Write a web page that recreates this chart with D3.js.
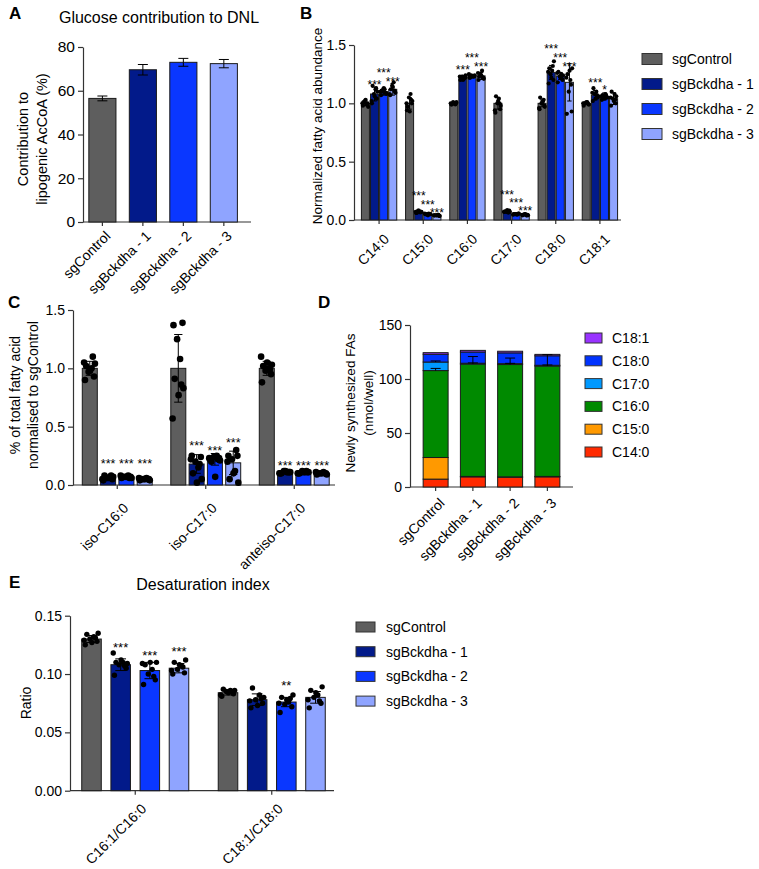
<!DOCTYPE html>
<html><head><meta charset="utf-8">
<script src="https://cdn.jsdelivr.net/npm/d3@7"></script>
<style>
body{margin:0;background:#fff}
text{font-family:"Liberation Sans",Arial,sans-serif;fill:#000}
</style>
</head><body>
<svg id="fig" width="759" height="869"></svg>
<script>
// ---------------- DATA ----------------
const groupNames = ["sgControl", "sgBckdha - 1", "sgBckdha - 2", "sgBckdha - 3"];
const groupColors = ["#5e5e5e", "#021a8a", "#0a37ff", "#8fa4ff"];

// Panel A
const aValues = [56.5, 69.6, 73.0, 72.4];
const aErrors = [1.1, 2.4, 1.8, 1.9];
const aTicks = [0, 20, 40, 60, 80];

// Panel B
const bCategories = ["C14:0", "C15:0", "C16:0", "C17:0", "C18:0", "C18:1"];
const bMeans = [
  [1.0, 1.08, 1.10, 1.12],
  [1.0, 0.07, 0.05, 0.04],
  [1.0, 1.22, 1.23, 1.235],
  [1.0, 0.073, 0.05, 0.045],
  [1.0, 1.265, 1.235, 1.18],
  [1.0, 1.07, 1.06, 1.04]
];
const bErrors = [
  [0.02, 0.06, 0.03, 0.05],
  [0.05, 0.01, 0.01, 0.005],
  [0.01, 0.02, 0.01, 0.03],
  [0.05, 0.01, 0.005, 0.005],
  [0.03, 0.06, 0.03, 0.16],
  [0.01, 0.04, 0.03, 0.05]
];
const bPoints = [
  [[0.98,1.00,1.02,0.99,1.01,0.97,1.03,1.00,0.99],[1.00,1.04,1.08,1.12,1.15,1.10,1.06,1.02,1.13],[1.07,1.09,1.10,1.12,1.11,1.08,1.13,1.10,1.09],[1.07,1.10,1.15,1.18,1.12,1.09,1.14,1.08,1.11]],
  [[0.94,1.00,1.05,1.08,0.97,1.02,0.93,1.00,1.03],[0.06,0.07,0.08,0.07,0.06,0.07,0.08,0.07,0.065],[0.05,0.05,0.045,0.055,0.05,0.05,0.04,0.055,0.05],[0.04,0.035,0.04,0.045,0.04,0.035,0.04,0.04,0.045]],
  [[0.99,1.00,1.01,1.00,0.99,1.01,1.00,1.00,0.99],[1.20,1.22,1.23,1.21,1.22,1.24,1.20,1.23,1.22],[1.22,1.23,1.24,1.23,1.22,1.24,1.23,1.25,1.23],[1.20,1.22,1.25,1.28,1.23,1.21,1.24,1.26,1.22]],
  [[0.92,0.95,1.00,1.04,1.06,0.98,1.02,0.94,1.00],[0.07,0.08,0.07,0.065,0.075,0.07,0.085,0.07,0.065],[0.05,0.055,0.05,0.045,0.05,0.055,0.05,0.045,0.05],[0.04,0.045,0.05,0.04,0.045,0.04,0.05,0.045,0.04]],
  [[0.95,0.98,1.00,1.02,1.05,0.97,1.01,0.96,1.03],[1.17,1.20,1.25,1.28,1.30,1.36,1.22,1.27,1.32],[1.18,1.20,1.23,1.25,1.27,1.24,1.22,1.26,1.21],[0.91,0.93,1.10,1.20,1.25,1.30,1.28,1.22,1.16]],
  [[0.98,0.99,1.00,1.01,1.00,0.99,1.01,1.00,1.00],[1.02,1.05,1.08,1.10,1.13,1.06,1.04,1.09,1.07],[1.03,1.05,1.06,1.08,1.07,1.05,1.04,1.06,1.07],[0.98,1.00,1.04,1.08,1.10,1.06,1.02,1.05,1.03]]
];
const bStarLabels = [
  ["", "***", "***", "***"], ["", "***", "***", "***"], ["", "***", "***", "***"],
  ["", "***", "***", "***"], ["", "***", "***", "***"], ["", "***", "*", ""]
];
const bStarY = [
  [0, 1.185, 1.286, 1.209], [0, 0.23, 0.155, 0.085], [0, 1.31, 1.41, 1.34],
  [0, 0.24, 0.17, 0.10], [0, 1.49, 1.41, 1.34], [0, 1.20, 1.137, 0]
];
const bTicks = [0, 0.5, 1.0, 1.5];

// Panel C
const cCategories = ["iso-C16:0", "iso-C17:0", "anteiso-C17:0"];
const cMeans = [
  [1.0, 0.065, 0.07, 0.05],
  [1.0, 0.18, 0.22, 0.19],
  [1.0, 0.11, 0.11, 0.10]
];
const cErrors = [
  [0.06, 0.015, 0.01, 0.01],
  [0.29, 0.08, 0.05, 0.10],
  [0.06, 0.01, 0.01, 0.01]
];
const cPoints = [
  [[0.90,0.93,0.97,1.00,1.02,1.04,0.98,1.05,1.10],[0.04,0.05,0.06,0.07,0.08,0.07,0.06,0.05,0.08],[0.06,0.07,0.07,0.08,0.07,0.06,0.07,0.08,0.06],[0.04,0.05,0.05,0.06,0.05,0.04,0.05,0.06,0.05]],
  [[1.37,1.39,1.25,1.08,0.91,0.83,0.77,0.57,0.86],[0.25,0.24,0.20,0.15,0.10,0.05,0.02,0.22,0.18],[0.22,0.23,0.24,0.25,0.20,0.21,0.07,0.23,0.22],[0.25,0.25,0.22,0.12,0.05,0.02,0.10,0.20,0.30]],
  [[0.88,0.95,0.98,1.00,1.02,1.03,1.05,1.10,0.99],[0.10,0.11,0.12,0.11,0.10,0.11,0.12,0.10,0.11],[0.10,0.11,0.12,0.11,0.10,0.11,0.11,0.10,0.12],[0.09,0.10,0.10,0.11,0.10,0.09,0.10,0.11,0.10]]
];
const cStarLabels = [["", "***", "***", "***"], ["", "***", "***", "***"], ["", "***", "***", "***"]];
const cStarY = [[0, 0.208, 0.208, 0.208], [0, 0.357, 0.314, 0.386], [0, 0.19, 0.19, 0.19]];
const cTicks = [0, 0.5, 1.0, 1.5];

// Panel D (stacked, bottom to top)
const dKeys = ["C14:0", "C15:0", "C16:0", "C17:0", "C18:0", "C18:1"];
const dColors = ["#ff2a00", "#ff9900", "#008a00", "#0099ff", "#0033ff", "#9933ff"];
const dC14 = [7.3, 9.4, 9.0, 9.4];
const dC15 = [20.0, 0.4, 0.4, 0.4];
const dC16 = [80.5, 104.0, 104.0, 102.2];
const dC17 = [7.9, 0.8, 0.8, 0.7];
const dC18 = [7.2, 10.4, 10.0, 8.8];
const dC181 = [1.5, 1.5, 1.5, 1.3];
const dErrC16 = [2.0, 7.0, 6.0, 10.5];
const dErrC17 = [1.0, 0.3, 0.3, 0.3];
const dTicks = [0, 50, 100, 150];

// Panel E
const eCategories = ["C16:1/C16:0", "C18:1/C18:0"];
const eMeans = [[0.130, 0.108, 0.103, 0.105], [0.084, 0.078, 0.076, 0.080]];
const eErrors = [[0.003, 0.005, 0.007, 0.004], [0.002, 0.005, 0.004, 0.005]];
const ePoints = [
  [[0.125,0.128,0.130,0.132,0.134,0.135,0.127,0.129,0.131],[0.099,0.105,0.108,0.110,0.110,0.109,0.112,0.118,0.107],[0.091,0.095,0.100,0.104,0.108,0.110,0.110,0.109,0.098],[0.100,0.101,0.104,0.107,0.110,0.112,0.108,0.103,0.106]],
  [[0.081,0.083,0.085,0.086,0.087,0.086,0.084,0.082,0.085],[0.071,0.075,0.078,0.082,0.088,0.080,0.073,0.077,0.079],[0.067,0.072,0.074,0.076,0.080,0.082,0.078,0.075,0.079],[0.071,0.075,0.080,0.082,0.086,0.089,0.084,0.078,0.077]]
];
const eStarLabels = [["", "***", "***", "***"], ["", "", "**", ""]];
const eStarY = [[0, 0.1249, 0.1186, 0.1215], [0, 0, 0.0929, 0]];
const eTicks = [0, 0.05, 0.10, 0.15];

// fixed horizontal spread pattern for scatter dots (fraction of bar width)
const spread = [-0.32, 0.28, -0.08, 0.12, -0.24, 0.34, 0.02, -0.38, 0.2];

// ---------------- DRAW ----------------
const svg = d3.select("#fig");
const AX = "#333";

function styleAxis(sel, fs) {
  sel.selectAll("path,line").attr("stroke", AX).attr("stroke-width", 1.2);
  sel.selectAll("text").attr("font-size", fs).attr("fill", "#000");
}
function rotLabels(g, items, y0, fs, ox, oy) {
  items.forEach(([label, x]) => {
    g.append("text").attr("transform", `translate(${x + ox},${y0 + oy}) rotate(-45)`)
      .attr("text-anchor", "end").attr("dy", "0.7em").attr("font-size", fs).text(label);
  });
}
function yLabel(lines, x, y, fs) {
  lines.forEach((l, i) => {
    svg.append("text").attr("transform", `translate(${x + i * (fs + 4)},${y}) rotate(-90)`)
      .attr("text-anchor", "middle").attr("font-size", fs).text(l);
  });
}
function panelLetter(t, x, y) {
  svg.append("text").attr("x", x).attr("y", y).attr("font-size", 17).attr("font-weight", "bold").text(t);
}
function errBar(g, x, yv1, yv2, w) {
  g.append("line").attr("x1", x).attr("x2", x).attr("y1", yv1).attr("y2", yv2).attr("stroke", "#000").attr("stroke-width", 1);
  g.append("line").attr("x1", x - w / 2).attr("x2", x + w / 2).attr("y1", yv2).attr("y2", yv2).attr("stroke", "#000").attr("stroke-width", 1);
}

// Grouped chart with dots
function grouped(o) {
  const g = svg.append("g");
  const y = d3.scaleLinear().domain([o.ticks[0], o.ticks[o.ticks.length - 1]]).range([o.yBottom, o.yTop]);
  const x = d3.scaleBand().domain(o.categories).range(o.xRange).paddingInner(o.pIn).paddingOuter(o.pOut);
  const xi = d3.scaleBand().domain(d3.range(4)).range([0, x.bandwidth()]).paddingInner(o.pIn2);
  const ya = g.append("g").attr("transform", `translate(${o.x0},0)`)
    .call(d3.axisLeft(y).tickValues(o.ticks).tickFormat(d3.format(o.fmt)).tickSize(5).tickSizeOuter(0).tickPadding(3));
  styleAxis(ya, o.tickFs);
  g.append("line").attr("x1", o.x0).attr("x2", o.x1).attr("y1", o.yBottom).attr("y2", o.yBottom).attr("stroke", AX).attr("stroke-width", 1.2);
  o.categories.forEach((c, ci) => {
    const gx = x(c);
    g.append("line").attr("x1", gx + x.bandwidth() / 2).attr("x2", gx + x.bandwidth() / 2)
      .attr("y1", o.yBottom).attr("y2", o.yBottom + 4).attr("stroke", AX).attr("stroke-width", 1.2);
    for (let s = 0; s < 4; s++) {
      const bx = gx + xi(s), bw = xi.bandwidth(), m = o.means[ci][s];
      g.append("rect").attr("x", bx).attr("y", y(m)).attr("width", bw).attr("height", o.yBottom - y(m))
        .attr("fill", groupColors[s]).attr("stroke", "#1a1a1a").attr("stroke-width", 1);
      const e = o.errors[ci][s], cx = bx + bw / 2;
      errBar(g, cx, y(m), y(m + e), bw * 0.55);
      errBar(g, cx, y(m), y(Math.max(0, m - e)), bw * 0.55);
      o.points[ci][s].forEach((v, k) => {
        g.append("circle").attr("cx", cx + spread[k] * bw * o.spreadK).attr("cy", y(v)).attr("r", o.r).attr("fill", "#000");
      });
      const lab = o.starLabels[ci][s];
      if (lab) g.append("text").attr("x", cx).attr("y", y(o.starY[ci][s])).attr("dy", "0.57em")
        .attr("text-anchor", "middle").attr("font-size", o.starFs).text(lab);
    }
  });
  rotLabels(g, o.categories.map(c => [c, x(c) + x.bandwidth() / 2]), o.yBottom, o.labFs, o.lox, o.loy);
}

function legend(x, y0, step, w, h, labels, colors, fs, tx) {
  labels.forEach((l, i) => {
    svg.append("rect").attr("x", x).attr("y", y0 + i * step - h / 2).attr("width", w).attr("height", h)
      .attr("fill", colors[i]).attr("stroke", "#333").attr("stroke-width", 1);
    svg.append("text").attr("x", tx).attr("y", y0 + i * step).attr("dy", "0.36em").attr("font-size", fs).text(l);
  });
}

// ---- Panel A ----
panelLetter("A", 9, 19);
svg.append("text").attr("x", 159).attr("y", 23).attr("text-anchor", "middle").attr("font-size", 16).text("Glucose contribution to DNL");
{
  const g = svg.append("g");
  const y = d3.scaleLinear().domain([0, 80]).range([222, 47]);
  const x = d3.scaleBand().domain(groupNames).range([83, 251]).paddingInner(0.33).paddingOuter(0.24).align(0.3);
  const ya = g.append("g").attr("transform", "translate(83,0)")
    .call(d3.axisLeft(y).tickValues(aTicks).tickSize(5).tickSizeOuter(0).tickPadding(3));
  styleAxis(ya, 15.5);
  g.append("line").attr("x1", 83).attr("x2", 251).attr("y1", 222).attr("y2", 222).attr("stroke", AX).attr("stroke-width", 1.2);
  groupNames.forEach((n, i) => {
    const bx = x(n), bw = x.bandwidth();
    g.append("rect").attr("x", bx).attr("y", y(aValues[i])).attr("width", bw).attr("height", 222 - y(aValues[i]))
      .attr("fill", groupColors[i]).attr("stroke", "#1a1a1a").attr("stroke-width", 1);
    errBar(g, bx + bw / 2, y(aValues[i]), y(aValues[i] + aErrors[i]), 10);
    errBar(g, bx + bw / 2, y(aValues[i]), y(aValues[i] - aErrors[i]), 10);
    g.append("line").attr("x1", bx + bw / 2).attr("x2", bx + bw / 2).attr("y1", 222).attr("y2", 226).attr("stroke", AX).attr("stroke-width", 1.2);
  });
  rotLabels(g, groupNames.map(n => [n, x(n) + x.bandwidth() / 2]), 222, 14, 2, 8);
}
yLabel(["Contribution to", "lipogenic AcCoA (%)"], 28, 139, 14.5);

// ---- Panel B ----
panelLetter("B", 300, 19);
grouped({
  categories: bCategories, means: bMeans, errors: bErrors, points: bPoints,
  starLabels: bStarLabels, starY: bStarY, ticks: bTicks, fmt: ".1f",
  x0: 354, x1: 621, yTop: 45, yBottom: 220, xRange: [357, 622], pIn: 0.2, pOut: 0.1, pIn2: 0.12,
  r: 2.1, spreadK: 1.0, tickFs: 14, labFs: 14, starFs: 12, lox: 4, loy: 13
});
yLabel(["Normalized fatty acid abundance"], 322, 126, 13.5);
legend(642, 59, 25, 20, 11, groupNames, groupColors, 14, 672);

// ---- Panel C ----
panelLetter("C", 8, 308);
grouped({
  categories: cCategories, means: cMeans, errors: cErrors, points: cPoints,
  starLabels: cStarLabels, starY: cStarY, ticks: cTicks, fmt: ".1f",
  x0: 73, x1: 335, yTop: 310, yBottom: 485, xRange: [73, 338.5], pIn: 0.21, pOut: 0.105, pIn2: 0.18,
  r: 3.3, spreadK: 1.0, tickFs: 14, labFs: 14, starFs: 12.5, lox: 5, loy: 17
});
yLabel(["% of total fatty acid", "normalised to sgControl"], 20, 395, 14);

// ---- Panel D ----
panelLetter("D", 318, 308);
{
  const g = svg.append("g");
  const rows = groupNames.map((n, i) => ({
    name: n, "C14:0": dC14[i], "C15:0": dC15[i], "C16:0": dC16[i], "C17:0": dC17[i], "C18:0": dC18[i], "C18:1": dC181[i]
  }));
  const stack = d3.stack().keys(dKeys)(rows);
  const y = d3.scaleLinear().domain([0, 150]).range([487, 325]);
  const x = d3.scaleBand().domain(groupNames).range([417, 566]).paddingInner(0.33).paddingOuter(0.165);
  const ya = g.append("g").attr("transform", "translate(410,0)")
    .call(d3.axisLeft(y).tickValues(dTicks).tickSize(5).tickSizeOuter(0).tickPadding(3));
  styleAxis(ya, 14);
  g.append("line").attr("x1", 410).attr("x2", 573).attr("y1", 487).attr("y2", 487).attr("stroke", AX).attr("stroke-width", 1.2);
  stack.forEach((layer, li) => {
    layer.forEach((d, i) => {
      g.append("rect").attr("x", x(d.data.name)).attr("y", y(d[1])).attr("width", x.bandwidth())
        .attr("height", Math.max(0, y(d[0]) - y(d[1])))
        .attr("fill", dColors[li]).attr("stroke", "#1a1a1a").attr("stroke-width", 1);
    });
  });
  groupNames.forEach((n, i) => {
    const cx = x(n) + x.bandwidth() / 2;
    const c16top = stack[2][i][1], c17top = stack[3][i][1];
    errBar(g, cx, y(c16top), y(c16top + dErrC16[i]), 10);
    errBar(g, cx, y(c17top), y(c17top + dErrC17[i]), 10);
    g.append("line").attr("x1", cx).attr("x2", cx).attr("y1", 487).attr("y2", 491).attr("stroke", AX).attr("stroke-width", 1.2);
  });
  rotLabels(g, groupNames.map(n => [n, x(n) + x.bandwidth() / 2]), 487, 14, 3, 10);
}
yLabel(["Newly synthesized FAs", "(nmol/well)"], 355, 403, 13.5);
legend(585, 338, 22.8, 17, 10, dKeys.slice().reverse(), dColors.slice().reverse(), 14, 612);

// ---- Panel E ----
panelLetter("E", 9, 588);
svg.append("text").attr("x", 203).attr("y", 590).attr("text-anchor", "middle").attr("font-size", 16).text("Desaturation index");
grouped({
  categories: eCategories, means: eMeans, errors: eErrors, points: ePoints,
  starLabels: eStarLabels, starY: eStarY, ticks: eTicks, fmt: ".2f",
  x0: 70, x1: 334, yTop: 615.7, yBottom: 790.7, xRange: [67, 340], pIn: 0.216, pOut: 0.108, pIn2: 0.33,
  r: 2.7, spreadK: 1.0, tickFs: 14, labFs: 14, starFs: 13, lox: 5, loy: 12
});
yLabel(["Ratio"], 31, 703, 14);
legend(356, 627, 24.7, 19, 10, groupNames, groupColors, 14, 386);
</script>
</body></html>
